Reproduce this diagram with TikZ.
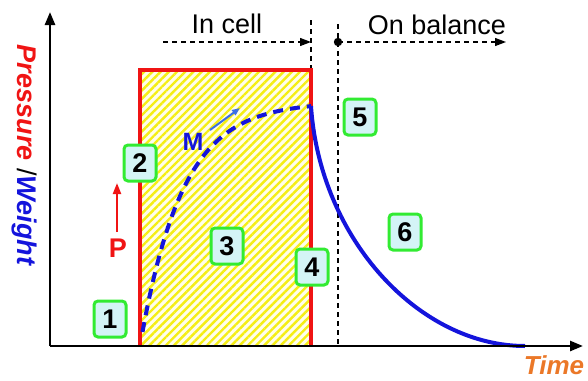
\documentclass[tikz,border=0pt]{standalone}
\usepackage{fontspec}
\setmainfont{Liberation Sans}
\usetikzlibrary{arrows.meta,patterns.meta}
\definecolor{gbord}{RGB}{50,235,50}
\definecolor{gfill}{RGB}{212,244,246}
\definecolor{hatchy}{RGB}{245,238,20}
\definecolor{wblue}{RGB}{20,20,220}
\definecolor{mblue}{RGB}{60,110,230}
\definecolor{pred}{RGB}{240,20,20}
\definecolor{torange}{RGB}{235,120,40}
\begin{document}
\begin{tikzpicture}[x=1pt,y=-1pt,
  numbox/.style={draw=gbord,line width=3pt,fill=gfill,rounded corners=4pt,
    minimum width=32pt,minimum height=36pt,inner sep=0pt,
    font=\fontsize{27}{30}\selectfont\bfseries},
  axisline/.style={line width=2.5pt,-{Triangle[length=13pt,width=10pt]}},
  guide/.style={dash pattern=on 5pt off 4pt,line width=1.3pt},
  guidearrow/.style={guide,-{Triangle[length=11pt,width=8pt]}},
  bigtext/.style={font=\fontsize{27}{30}\selectfont},
  redline/.style={pred,line width=3.5pt}]
\useasboundingbox (0,0) rectangle (588,380);
% coordinates
\coordinate (O) at (50,346);
\coordinate (ytip) at (50,12);
\coordinate (xtip) at (583,346);
\coordinate (rbl) at (140,346);
\coordinate (rtl) at (140,70);
\coordinate (rtr) at (311,70);
\coordinate (rbr) at (311,346);
% hatch
\fill[yellow!8] (rbl) rectangle (rtr);
\fill[pattern={Lines[angle=45,distance=5.8pt,line width=2.4pt]},pattern color=hatchy] (rbl) rectangle (rtr);
% guides
\coordinate (g1top) at (311,20);
\coordinate (g2top) at (338,24);
\coordinate (g2bot) at (338,346);
\draw[guide] (g1top) -- (rtr);
\draw[guide] (g2top) -- (g2bot);
\coordinate (inS) at (163,42);
\coordinate (inE) at (311,42);
\draw[guidearrow] (inS) -- (inE);
\coordinate (onS) at (338,42);
\coordinate (onE) at (506,42);
\draw[guidearrow] (onS) -- (onE);
\fill (onS) circle (4.2pt);
\node[bigtext] (incell) at (227,24) {In cell};
\node[bigtext] (onbal) at (437,25) {On balance};
% red box
\draw[redline,line join=miter] (rbl) -- (rtl) -- (rtr) -- (rbr);
% curves
\draw[wblue,line width=4pt,dash pattern=on 10pt off 7pt]
  plot[domain=142.5:311,samples=60,smooth] (\x,{346-244*(1-exp(-(\x-140)/42))});
\coordinate (cS) at (311,106);
\coordinate (cE) at (525,346);
\draw[wblue,line width=4pt] (cS) .. controls (320,240) and (420,346) .. (cE);
% axes
\draw[axisline] (O) -- (ytip);
\draw[axisline] (O) -- (xtip);
% labels
\node[rotate=-90,font=\fontsize{27}{30}\selectfont\bfseries\itshape,inner sep=0pt] (ylab) at (24,155)
  {\textcolor{pred}{Pressure} {\mdseries\upshape /}\textcolor{wblue}{Weight}};
\node[torange,font=\fontsize{26}{28}\selectfont\bfseries\itshape,inner sep=0pt] (tlab) at (554,365) {Time};
% P arrow
\coordinate (pS) at (117,232);
\coordinate (pE) at (117,183);
\draw[pred,line width=2.2pt,-{Triangle[length=11pt,width=8pt]}] (pS) -- (pE);
\node[pred,font=\fontsize{27}{30}\selectfont\bfseries,inner sep=0pt] (P) at (118,248) {P};
% M arrow
\coordinate (mS) at (210,130);
\coordinate (mE) at (240,108);
\draw[mblue,line width=2pt,-{Triangle[length=8pt,width=6pt]}] (mS) -- (mE);
\node[wblue,font=\fontsize{25}{28}\selectfont\bfseries,inner sep=0pt] (M) at (193,142) {M};
% number boxes
\node[numbox] (b1) at (110,319) {1};
\node[numbox] (b2) at (140,163) {2};
\node[numbox] (b3) at (227,246) {3};
\node[numbox] (b4) at (312,267) {4};
\node[numbox] (b5) at (360,117) {5};
\node[numbox] (b6) at (405,232) {6};
\end{tikzpicture}
\end{document}
